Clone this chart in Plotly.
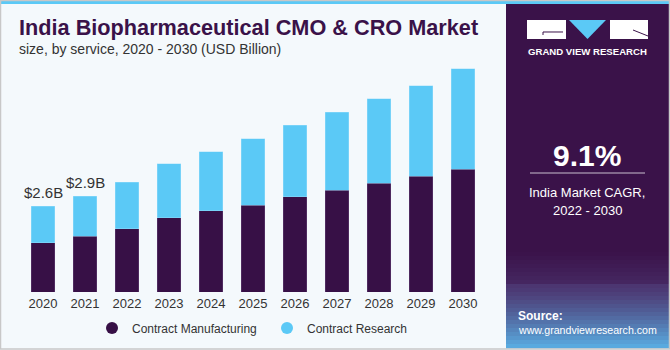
import plotly.graph_objects as go

years = ["2020", "2021", "2022", "2023", "2024", "2025", "2026", "2027", "2028", "2029", "2030"]
contract_manufacturing = [1.50, 1.70, 1.92, 2.26, 2.47, 2.64, 2.89, 3.09, 3.30, 3.52, 3.73]
contract_research = [1.10, 1.20, 1.42, 1.63, 1.79, 2.01, 2.18, 2.37, 2.57, 2.75, 3.05]
label_years = ["2020", "2021"]
label_texts = ["$2.6B", "$2.9B"]

DARK = "#371046"
BLUE = "#5bc9f6"
BG = "#f4f9fc"
FONT = "Liberation Sans"

W, H = 670, 350
ML, MR, MT, MB = 22, 186, 45, 58
PW, PH = W - ML - MR, H - MT - MB


def px(x):
    return (x - ML) / PW


def py(y):
    return (H - MB - y) / PH


totals = [a + b for a, b in zip(contract_manufacturing, contract_research)]

fig = go.Figure()
fig.add_trace(go.Bar(x=years, y=contract_manufacturing, name="Contract Manufacturing",
                     marker=dict(color=DARK, line=dict(color="rgba(120,90,140,0.6)", width=0.6)),
                     showlegend=False))
fig.add_trace(go.Bar(x=years, y=contract_research, name="Contract Research",
                     marker=dict(color=BLUE, line=dict(color="rgba(160,225,250,0.7)", width=0.6)),
                     showlegend=False))
# legend entries with circle markers
fig.add_trace(go.Scatter(x=[None], y=[None], mode="markers", name="Contract Manufacturing",
                         marker=dict(color=DARK, size=12, symbol="circle")))
fig.add_trace(go.Scatter(x=[None], y=[None], mode="markers", name="Contract Research",
                         marker=dict(color=BLUE, size=12, symbol="circle")))

annotations = []
for yr, txt in zip(label_years, label_texts):
    i = years.index(yr)
    annotations.append(dict(x=i, y=totals[i], xref="x", yref="y", text=txt,
                            showarrow=False, xanchor="center", yanchor="bottom", yshift=3,
                            font=dict(family=FONT, size=15, color="#333333")))

# Title & subtitle
annotations.append(dict(x=px(17), y=py(28), xref="paper", yref="paper", xanchor="left", yanchor="middle",
                        text="<b>India Biopharmaceutical CMO &amp; CRO Market</b>", showarrow=False,
                        font=dict(family=FONT, size=21.7, color="#3a1249")))
annotations.append(dict(x=px(17), y=py(49), xref="paper", yref="paper", xanchor="left", yanchor="middle",
                        text="size, by service, 2020 - 2030 (USD Billion)", showarrow=False,
                        font=dict(family=FONT, size=14, color="#333333")))

# Right panel texts
annotations.append(dict(x=px(587.5), y=py(51), xref="paper", yref="paper", xanchor="center", yanchor="middle",
                        text="<b>GRAND VIEW RESEARCH</b>", showarrow=False,
                        font=dict(family=FONT, size=9.6, color="white")))
annotations.append(dict(x=px(587), y=py(155), xref="paper", yref="paper", xanchor="center", yanchor="middle",
                        text="<b>9.1%</b>", showarrow=False,
                        font=dict(family=FONT, size=30, color="white")))
annotations.append(dict(x=px(587), y=py(192), xref="paper", yref="paper", xanchor="center", yanchor="middle",
                        text="India Market CAGR,", showarrow=False,
                        font=dict(family=FONT, size=13, color="white")))
annotations.append(dict(x=px(587), y=py(210), xref="paper", yref="paper", xanchor="center", yanchor="middle",
                        text="2022 - 2030", showarrow=False,
                        font=dict(family=FONT, size=13, color="white")))
annotations.append(dict(x=px(516), y=py(316), xref="paper", yref="paper", xanchor="left", yanchor="middle",
                        text="<b>Source:</b>", showarrow=False,
                        font=dict(family=FONT, size=12, color="white")))
annotations.append(dict(x=px(516), y=py(330), xref="paper", yref="paper", xanchor="left", yanchor="middle",
                        text="www.grandviewresearch.com", showarrow=False,
                        font=dict(family=FONT, size=10.6, color="white")))

shapes = []


def rect(x0, y0, x1, y1, color, layer="below", line=None):
    shapes.append(dict(type="rect", xref="paper", yref="paper", x0=px(x0), x1=px(x1), y0=py(y1), y1=py(y0),
                       fillcolor=color, line=line or dict(width=0), layer=layer))


# top light-blue band
rect(0, 0, 670, 4, BLUE)
# right panel
rect(506, 4, 669, 348, "#3a1249")


def mix(c1, c2, t):
    return tuple(a + (b - a) * t for a, b in zip(c1, c2))


def css(c):
    return "rgb(%d,%d,%d)" % tuple(round(v) for v in c)


top_c = (58, 18, 73)
mid_c = (80, 60, 120)
bot_c = (90, 175, 228)
n = 24
y_start, y_mid, y_end = 252, 283, 348
for i in range(n):
    y0 = y_start + (y_end - y_start) * i / n
    y1 = y_start + (y_end - y_start) * (i + 1) / n
    yc = (y0 + y1) / 2
    if yc < y_mid:
        c = mix(top_c, mid_c, (yc - y_start) / (y_mid - y_start) * 0.5)
    else:
        c = mix(mix(top_c, mid_c, 0.8), bot_c, ((yc - y_mid) / (y_end - y_mid)) ** 1.3)
    rect(506, y0, 669, y1 + 0.5, css(c))

# logo
rect(527, 20, 566, 39, "white", layer="above")
rect(610, 20, 648, 39, "white", layer="above")
shapes.append(dict(type="path", xref="paper", yref="paper",
                   path="M %f,%f L %f,%f L %f,%f Z" % (px(569), py(20), px(606), py(20), px(587.5), py(39)),
                   fillcolor=BLUE, line=dict(width=0), layer="above"))
shapes.append(dict(type="path", xref="paper", yref="paper",
                   path="M %f,%f L %f,%f L %f,%f" % (px(563), py(32), px(543), py(32), px(543), py(35)),
                   line=dict(color="#3a1249", width=1), layer="above"))
shapes.append(dict(type="line", xref="paper", yref="paper", x0=px(633), y0=py(30), x1=px(648), y1=py(36),
                   line=dict(color="#3a1249", width=1), layer="above"))
# CAGR divider
shapes.append(dict(type="line", xref="paper", yref="paper", x0=px(530), y0=py(173), x1=px(645), y1=py(173),
                   line=dict(color="#c9bfd0", width=1), layer="above"))
# outer border
shapes.append(dict(type="rect", xref="paper", yref="paper", x0=px(0.5), x1=px(669.5), y0=py(349), y1=py(0.5),
                   line=dict(color="#c8c8c8", width=1.5), fillcolor="rgba(0,0,0,0)", layer="above"))

fig.update_layout(
    width=W, height=H,
    margin=dict(l=ML, r=MR, t=MT, b=MB, pad=0, autoexpand=False),
    paper_bgcolor=BG, plot_bgcolor=BG,
    barmode="stack", bargap=0.43,
    font=dict(family=FONT, color="#333333"),
    xaxis=dict(type="category", range=[-0.5, 10.5], showgrid=False, showline=False, ticks="",
               ticklabelstandoff=2, automargin=False,
               tickfont=dict(family=FONT, size=13, color="#333333"), fixedrange=True),
    yaxis=dict(range=[0, 7.5], visible=False, showgrid=False, fixedrange=True, automargin=False),
    legend=dict(orientation="h", x=px(92), y=py(328), xanchor="left", yanchor="middle",
                entrywidth=130, entrywidthmode="pixels", itemclick=False, traceorder="normal",
                font=dict(family=FONT, size=12, color="#333333"), bgcolor="rgba(0,0,0,0)",
                tracegroupgap=0),
    annotations=annotations,
    shapes=shapes,
)

fig.write_html("out.html", config={"displayModeBar": False})
